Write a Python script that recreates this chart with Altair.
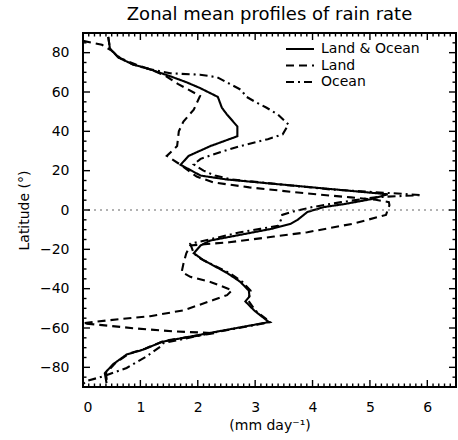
import altair as alt
import pandas as pd

series_names = ["Land & Ocean", "Land", "Ocean"]

lo_lat = [88, 82, 77.5, 74, 71.5, 68, 65, 62, 57.5, 52, 48.5, 42.5, 37.5, 32.5, 27.5, 23, 17.5, 15.5, 8, 5.5,
          3, 1.5, -1, -5, -7, -9.5, -12, -15.5, -18, -22, -25.5, -32, -36.5, -41, -44, -46.5, -51, -57, -62.5, -67,
          -71, -73.5, -78.5, -83, -88]
lo_val = [0.44, 0.47, 0.62, 0.87, 1.17, 1.52, 1.80, 2.04, 2.35, 2.42, 2.51, 2.69, 2.69, 2.22, 1.84, 1.70, 2.05, 2.51, 5.31, 5.02,
          4.55, 4.20, 3.91, 3.74, 3.62, 3.30, 2.85, 2.22, 2.05, 1.93, 2.10, 2.51, 2.74, 2.89, 2.90, 2.83, 2.98, 3.24, 2.21, 1.38,
          1.05, 0.76, 0.52, 0.38, 0.41]

land_lat = [86, 84, 81, 77, 74, 71, 68, 64, 58, 51, 45, 40, 32.5, 27.5, 23, 17, 14, 11.5, 8.4, 6.4,
            5.2, 4, 2.5, -2.5, -7, -11.3, -13.5, -16.4, -18, -22, -27.3, -31.5, -34, -36.6, -40.8, -43.3, -45.8, -51, -54, -56,
            -57.6, -58.4, -60.1, -61.8, -62.6, -66.5, -70.5, -73, -78, -83, -88]
land_val = [0.0, 0.33, 0.50, 0.66, 0.92, 1.22, 1.45, 1.66, 2.04, 1.93, 1.75, 1.67, 1.64, 1.46, 1.70, 1.98, 2.28, 2.90, 3.91, 4.67,
            5.10, 5.33, 5.34, 5.28, 4.70, 3.91, 3.33, 2.55, 1.87, 1.80, 1.75, 1.72, 1.87, 2.22, 2.60, 2.51, 2.27, 1.75, 1.17, 0.47,
            0.0, 0.29, 0.87, 1.63, 2.30, 1.42, 1.08, 0.80, 0.56, 0.40, 0.42]

ocean_lat = [88, 82, 77.5, 74, 71.5, 69.5, 68.8, 67.5, 65, 61, 57.7, 55, 52, 48.5, 43.5, 38.5, 36, 32.5, 30, 26,
             23.2, 20, 17.5, 15.5, 10.5, 7.6, 6.5, 4, 1.5, -0.7, -2.5, -5, -8, -9.6, -11.3, -15, -17.2, -22, -25, -32,
             -36.6, -41, -46, -51, -57, -62.5, -67.7, -69.4, -74.4, -80.3, -84.5, -87, -88.5]
ocean_val = [0.44, 0.47, 0.62, 0.87, 1.17, 1.52, 2.04, 2.34, 2.50, 2.76, 2.84, 3.00, 3.20, 3.40, 3.58, 3.48, 3.22, 2.74, 2.45, 2.05,
             1.93, 2.10, 2.30, 2.60, 4.30, 5.90, 5.10, 4.50, 4.00, 3.67, 3.47, 3.45, 3.40, 3.09, 2.74, 2.20, 1.87, 1.93, 2.06, 2.55,
             2.78, 2.92, 2.88, 3.00, 3.26, 2.25, 1.40, 1.35, 1.11, 0.76, 0.36, 0.06, 0.0]

x_major = [0, 1, 2, 3, 4, 5, 6]
x_minor = [i / 10 for i in range(0, 66) if i % 10 != 0]
y_major = [-80, -60, -40, -20, 0, 20, 40, 60, 80]
y_minor = [v for v in range(-85, 90, 5) if v % 20 != 0]

rows = []
for name, lats, vals in zip(series_names, [lo_lat, land_lat, ocean_lat], [lo_val, land_val, ocean_val]):
    for i, (la, v) in enumerate(zip(lats, vals)):
        rows.append({"series": name, "idx": i, "lat": la, "rate": v})
df = pd.DataFrame(rows)

XMAX = 6.5
xs = alt.Scale(domain=[0, XMAX], nice=False, zero=False)
ys = alt.Scale(domain=[-90, 90], nice=False, zero=False)

lines = alt.Chart(df).mark_line(color="black", strokeWidth=2.1).encode(
    x=alt.X("rate:Q", scale=xs,
            axis=alt.Axis(values=x_major, title="(mm day⁻¹)", format="d", labelPadding=13,
                          titlePadding=4, ticks=False, domain=False, grid=False)),
    y=alt.Y("lat:Q", scale=ys,
            axis=alt.Axis(values=y_major, title="Latitude (°)", format="d", labelPadding=14,
                          titlePadding=8, ticks=False, domain=False, grid=False)),
    strokeDash=alt.StrokeDash(
        "series:N",
        scale=alt.Scale(domain=series_names, range=[[1, 0], [8, 5], [8, 4, 2, 4]]),
        legend=alt.Legend(title=None, orient="none", legendX=202, legendY=8, padding=0,
                          symbolType="M-1,0H3", symbolSize=196, symbolStrokeWidth=2,
                          symbolStrokeColor="black", labelFontSize=14, labelFont="DejaVu Sans",
                          labelColor="black", rowPadding=1.5, labelOffset=20),
    ),
    order=alt.Order("idx:Q"),
)

zero = alt.Chart(pd.DataFrame({"lat": [0]})).mark_rule(color="#666", strokeDash=[2, 4], strokeWidth=1.2).encode(
    y=alt.Y("lat:Q", scale=ys)
)

# inward-pointing ticks, IDL style
LX_MAJ, LX_MIN = 7 * 180 / 354, 3.5 * 180 / 354     # vertical ticks, in degrees
LY_MAJ, LY_MIN = 7 * XMAX / 373, 3.5 * XMAX / 373   # horizontal ticks, in mm/day


def xticks(vals, edge, inner):
    return alt.Chart(pd.DataFrame({"v": vals})).mark_rule(color="#000000", strokeWidth=1.4).encode(
        x=alt.X("v:Q", scale=xs), y=alt.Y(datum=edge, scale=ys), y2=alt.Y2(datum=inner))


def yticks(vals, edge, inner):
    return alt.Chart(pd.DataFrame({"v": vals})).mark_rule(color="#000000", strokeWidth=1.4).encode(
        y=alt.Y("v:Q", scale=ys), x=alt.X(datum=edge, scale=xs), x2=alt.X2(datum=inner))


tick_layers = [
    xticks(x_major, -90, -90 + LX_MAJ), xticks(x_major, 90, 90 - LX_MAJ),
    xticks(x_minor, -90, -90 + LX_MIN), xticks(x_minor, 90, 90 - LX_MIN),
    yticks(y_major, 0, LY_MAJ), yticks(y_major, XMAX, XMAX - LY_MAJ),
    yticks(y_minor, 0, LY_MIN), yticks(y_minor, XMAX, XMAX - LY_MIN),
]

chart = alt.layer(lines, zero, *tick_layers).properties(
    width=373, height=354,
    title=alt.TitleParams("Zonal mean profiles of rain rate", fontSize=18, fontWeight="normal",
                          font="DejaVu Sans", anchor="middle", offset=8),
    padding={"left": 83, "top": 33, "right": 2, "bottom": 53},
    autosize=alt.AutoSizeParams(type="none"),
).configure_view(stroke="black", strokeWidth=2).configure_axis(
    labelFont="DejaVu Sans", titleFont="DejaVu Sans", labelFontSize=14, titleFontSize=14,
    titleFontWeight="normal", labelColor="black", titleColor="black",
)

chart.save("out.html", embed_options={"renderer": "svg", "actions": False})
